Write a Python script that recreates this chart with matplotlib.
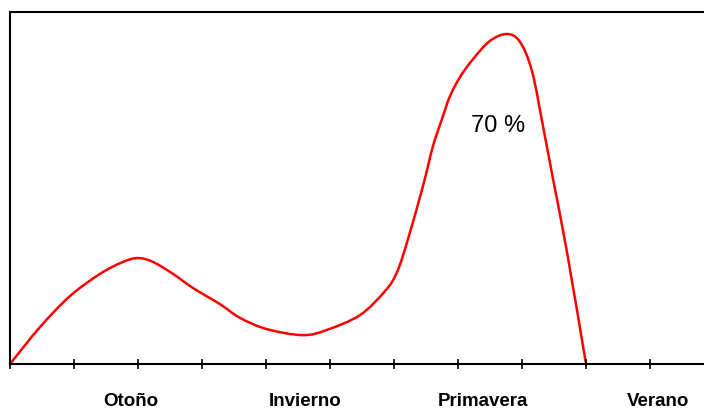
import matplotlib
matplotlib.use("Agg")
import matplotlib.pyplot as plt
import matplotlib.transforms as mtransforms
from matplotlib.path import Path
from matplotlib.patches import PathPatch

plt.rcParams["font.family"] = ["Liberation Sans", "DejaVu Sans"]

# traced curve (x in tick units, y in percent of plot height)
curve_x = [0.0, 0.469, 0.9375, 1.406, 1.766, 2.0, 2.234, 2.547, 2.859, 3.281,
           3.594, 4.016, 4.578, 4.953, 5.469, 5.859, 6.047, 6.219, 6.453, 6.609,
           6.75, 6.875, 7.031, 7.234, 7.5, 7.766, 7.969, 8.156, 8.328, 8.484,
           8.703, 9.0]
curve_y = [0.0, 10.5, 19.3, 25.6, 29.0, 30.1, 29.0, 25.6, 21.6, 17.0,
           13.1, 9.9, 8.2, 9.7, 13.9, 20.7, 26.1, 35.5, 50.6, 61.9,
           69.6, 76.1, 81.5, 86.6, 91.8, 93.75, 91.5, 83.2, 67.6, 52.6,
           31.8, 0.0]

seasons = ["Otoño", "Invierno", "Primavera", "Verano"]
season_x = [1.89, 4.61, 7.39, 10.125]
ticks = list(range(12))

peak_label = "70 %"
peak_x, peak_y = 7.625, 66.2


def smooth_path(xs, ys):
    # Catmull-Rom through the points, drawn as cubic Bezier segments
    pts = list(zip(xs, ys))
    verts = [pts[0]]
    codes = [Path.MOVETO]
    for i in range(len(pts) - 1):
        p0 = pts[i - 1] if i > 0 else pts[i]
        p1 = pts[i]
        p2 = pts[i + 1]
        p3 = pts[i + 2] if i + 2 < len(pts) else pts[i + 1]
        c1 = (p1[0] + (p2[0] - p0[0]) / 6, p1[1] + (p2[1] - p0[1]) / 6)
        c2 = (p2[0] - (p3[0] - p1[0]) / 6, p2[1] - (p3[1] - p1[1]) / 6)
        verts += [c1, c2, p2]
        codes += [Path.CURVE4] * 3
    return Path(verts, codes)


def main() -> None:
    fig = plt.figure(figsize=(7.04, 4.10), dpi=100)
    ax = fig.add_axes([10 / 704, 45 / 410, 1.0, 352 / 410])

    ax.add_patch(PathPatch(smooth_path(curve_x, curve_y), facecolor="none",
                           edgecolor="#ff0000", linewidth=1.8))

    ax.set_xlim(0, 11)
    ax.set_ylim(0, 100)
    ax.set_xticks(ticks)
    ax.set_xticklabels([])
    ax.set_yticks([])
    ax.tick_params(axis="x", direction="inout", length=7, width=1.2, color="black")
    for side in ("left", "top", "bottom", "right"):
        ax.spines[side].set_linewidth(1.5)
        ax.spines[side].set_color("black")

    trans = mtransforms.blended_transform_factory(ax.transData, ax.transAxes)
    for name, x in zip(seasons, season_x):
        ax.text(x, -0.116, name, transform=trans, ha="center", va="baseline",
                fontsize=13.5, fontweight="bold", clip_on=False)

    ax.text(peak_x, peak_y, peak_label, ha="center", va="baseline", fontsize=17)

    fig.savefig("out.png", dpi=100)
    plt.close(fig)


if __name__ == "__main__":
    main()
